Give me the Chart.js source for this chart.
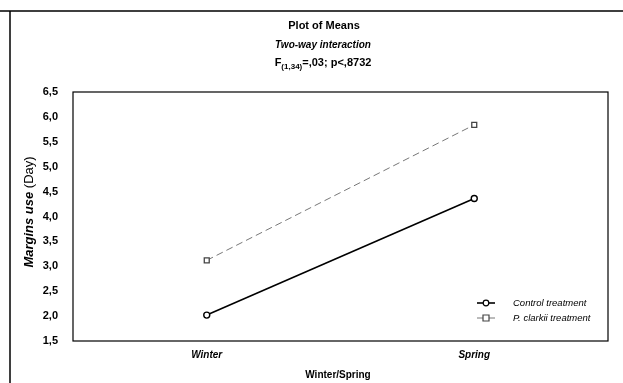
<!DOCTYPE html>
<html>
<head>
<meta charset="utf-8">
<script src="https://cdn.jsdelivr.net/npm/chart.js@4.4.0/dist/chart.umd.min.js"></script>
<style>
  html, body { margin: 0; padding: 0; background: #fff; }
  #wrap { width: 623px; height: 383px; }
</style>
</head>
<body>
<div id="wrap"><canvas id="chart" width="623" height="383"></canvas></div>
<script>
// chart data
const seasons = ['Winter', 'Spring'];
const controlMeans = [2.02, 4.36];
const clarkiiMeans = [3.12, 5.84];
const seriesNames = ['Control treatment', 'P. clarkii treatment'];
const yMin = 1.5, yMax = 6.5, yStep = 0.5;

const FONT = '"Liberation Sans", Arial, sans-serif';

// titles, frame, box and legend drawn by hand (mixed styles, subscript)
const decorPlugin = {
    id: 'decor',
    afterDraw(chart) {
        const ctx = chart.ctx;
        const area = chart.chartArea;
        ctx.save();

        // scan frame lines
        ctx.strokeStyle = '#000';
        ctx.lineWidth = 1.5;
        ctx.beginPath();
        ctx.moveTo(0, 11); ctx.lineTo(623, 11);
        ctx.moveTo(10, 11); ctx.lineTo(10, 383);
        ctx.stroke();

        // plot box
        ctx.lineWidth = 1.2;
        ctx.strokeRect(area.left, area.top, area.right - area.left, area.bottom - area.top);

        // titles
        ctx.fillStyle = '#000';
        ctx.textAlign = 'center';
        ctx.textBaseline = 'middle';
        ctx.font = 'bold 11px ' + FONT;
        ctx.fillText('Plot of Means', 324, 26);
        ctx.font = 'italic bold 10px ' + FONT;
        ctx.fillText('Two-way interaction', 323, 45);

        // F(1,34)=,03; p<,8732
        const parts = [
            { t: 'F', f: 'bold 11px ' + FONT, dy: 0 },
            { t: '(1,34)', f: 'bold 8px ' + FONT, dy: 4 },
            { t: '=,03; p<,8732', f: 'bold 11px ' + FONT, dy: 0 }
        ];
        let total = 0;
        parts.forEach(p => { ctx.font = p.f; p.w = ctx.measureText(p.t).width; total += p.w; });
        let x = 323 - total / 2;
        ctx.textAlign = 'left';
        parts.forEach(p => { ctx.font = p.f; ctx.fillText(p.t, x, 63 + p.dy); x += p.w; });

        // y axis title
        ctx.save();
        ctx.translate(29, 212);
        ctx.rotate(-Math.PI / 2);
        const a = 'Margins use ', b = '(Day)';
        ctx.font = 'italic bold 13px ' + FONT;
        const wa = ctx.measureText(a).width;
        ctx.font = '13px ' + FONT;
        const wb = ctx.measureText(b).width;
        let sx = -(wa + wb) / 2;
        ctx.font = 'italic bold 13px ' + FONT;
        ctx.fillText(a, sx, 0);
        ctx.font = '13px ' + FONT;
        ctx.fillText(b, sx + wa, 0);
        ctx.restore();

        // x axis title
        ctx.textAlign = 'center';
        ctx.font = 'bold 10px ' + FONT;
        ctx.fillText('Winter/Spring', 338, 375);

        // legend inside plot
        chart.data.datasets.forEach((ds, i) => {
            const ly = 303 + i * 15;
            ctx.strokeStyle = ds.borderColor;
            ctx.lineWidth = ds.borderWidth;
            ctx.setLineDash(ds.borderDash || []);
            ctx.beginPath();
            ctx.moveTo(477, ly); ctx.lineTo(495, ly);
            ctx.stroke();
            ctx.setLineDash([]);
            ctx.fillStyle = '#fff';
            ctx.strokeStyle = ds.pointBorderColor;
            ctx.lineWidth = 1.2;
            ctx.beginPath();
            if (ds.pointStyle === 'rect') {
                ctx.rect(483, ly - 3, 6, 6);
            } else {
                ctx.arc(486, ly, 2.8, 0, Math.PI * 2);
            }
            ctx.fill();
            ctx.stroke();
            ctx.fillStyle = '#000';
            ctx.textAlign = 'left';
            ctx.font = 'italic 9.5px ' + FONT;
            ctx.fillText(ds.label, 513, ly);
        });

        ctx.restore();
    }
};

new Chart(document.getElementById('chart'), {
    type: 'line',
    data: {
        labels: seasons,
        datasets: [
            {
                label: seriesNames[0],
                data: controlMeans,
                borderColor: '#000',
                borderWidth: 1.6,
                pointStyle: 'circle',
                pointRadius: 3,
                pointBackgroundColor: '#fff',
                pointBorderColor: '#000',
                pointBorderWidth: 1.4
            },
            {
                label: seriesNames[1],
                data: clarkiiMeans,
                borderColor: '#777',
                borderWidth: 1,
                borderDash: [7, 4],
                pointStyle: 'rect',
                pointRadius: 3.5,
                pointBackgroundColor: '#fff',
                pointBorderColor: '#444',
                pointBorderWidth: 1.3
            }
        ]
    },
    options: {
        responsive: false,
        animation: false,
        layout: { padding: { top: 92, right: 15, left: 0, bottom: 0 } },
        plugins: {
            legend: { display: false },
            title: { display: false },
            tooltip: { enabled: false }
        },
        scales: {
            x: {
                offset: true,
                grid: { display: false },
                border: { display: false },
                ticks: {
                    color: '#000',
                    padding: 0,
                    font: { family: FONT, size: 10, weight: 'bold', style: 'italic' }
                },
                afterFit: s => { s.height = 42; }
            },
            y: {
                min: yMin,
                max: yMax,
                grid: { display: false },
                border: { display: false },
                ticks: {
                    stepSize: yStep,
                    color: '#000',
                    padding: 7,
                    font: { family: FONT, size: 11, weight: 'bold' },
                    callback: v => v.toFixed(1).replace('.', ',')
                },
                afterFit: s => { s.width = 73; }
            }
        }
    },
    plugins: [decorPlugin]
});
</script>
</body>
</html>
